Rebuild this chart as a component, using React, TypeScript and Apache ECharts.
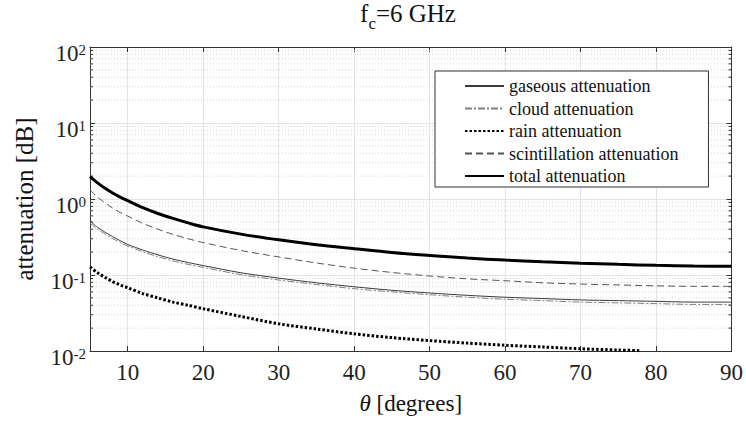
import React, { useEffect, useRef } from "react";
import * as echarts from "echarts";

const thetaDeg = [5, 6, 7, 8, 9, 10, 12, 14, 16, 18, 20, 25, 30, 35, 40, 45, 50, 55, 60, 65, 70, 75, 80, 85, 90];
const gaseous = [0.51, 0.425, 0.365, 0.32, 0.283, 0.252, 0.213, 0.184, 0.162, 0.146, 0.133, 0.107, 0.091, 0.079, 0.07, 0.063, 0.058, 0.054, 0.051, 0.049, 0.047, 0.046, 0.045, 0.044, 0.044];
const cloud = [0.48, 0.4, 0.345, 0.302, 0.267, 0.24, 0.202, 0.174, 0.153, 0.138, 0.126, 0.101, 0.086, 0.075, 0.066, 0.06, 0.055, 0.051, 0.048, 0.046, 0.044, 0.043, 0.042, 0.041, 0.041];
const rainTheta = [5, 6, 7, 8, 9, 10, 12, 14, 16, 18, 20, 25, 30, 35, 40, 45, 50, 55, 60, 65, 70, 75, 78];
const rain = [0.128, 0.107, 0.093, 0.082, 0.074, 0.068, 0.057, 0.05, 0.044, 0.04, 0.036, 0.0285, 0.0228, 0.0195, 0.0168, 0.015, 0.0137, 0.0127, 0.0119, 0.0113, 0.0107, 0.0103, 0.0101];
const scintillation = [1.31, 1.06, 0.89, 0.76, 0.665, 0.595, 0.478, 0.4, 0.342, 0.3, 0.267, 0.21, 0.173, 0.144, 0.123, 0.108, 0.097, 0.089, 0.084, 0.079, 0.076, 0.074, 0.072, 0.071, 0.071];
const total = [1.97, 1.63, 1.38, 1.2, 1.06, 0.95, 0.77, 0.645, 0.555, 0.485, 0.43, 0.345, 0.29, 0.25, 0.222, 0.198, 0.181, 0.167, 0.157, 0.149, 0.143, 0.138, 0.134, 0.131, 0.13];

const seriesNames = [
  "gaseous attenuation",
  "cloud attenuation",
  "rain attenuation",
  "scintillation attenuation",
  "total attenuation",
];

const minorMultipliers = [2, 3, 4, 5, 6, 7, 8, 9];
const decades = [0.01, 0.1, 1, 10];

const X_MIN = 5;
const X_MAX = 90;
const Y_MIN = 0.01;
const Y_MAX = 100;

const FONT = "Liberation Serif";

function pairs(xs: number[], ys: number[]) {
  return xs.map((x, i) => [x, ys[i]]);
}

export default function App() {
  const ref = useRef<HTMLDivElement>(null);

  useEffect(() => {
    if (!ref.current) return;
    const chart = echarts.init(ref.current, undefined, { renderer: "svg" });

    const minorValues: number[][] = [];
    decades.forEach((d) => minorMultipliers.forEach((m) => minorValues.push([X_MIN, +(d * m).toPrecision(3)])));

    const axisColor = "#333";
    const gridColor = "#e3e3e3";

    const lineSeries = (name: string, xs: number[], ys: number[], color: string, width: number, type: any) => ({
      type: "line",
      name,
      data: pairs(xs, ys),
      smooth: 0.3,
      symbol: "none",
      z: 3,
      lineStyle: { color, width, type },
      itemStyle: { color },
    });

    const option: any = {
      animation: false,
      backgroundColor: "#fff",
      textStyle: { fontFamily: FONT },
      title: {
        text: "{a|f}{b|c}{a|=6 GHz}",
        left: 408,
        textAlign: "center",
        top: 7,
        padding: 0,
        textStyle: {
          fontWeight: "normal",
          rich: {
            a: { fontFamily: FONT, fontSize: 25, lineHeight: 25, fontWeight: "normal", color: "#111", padding: [0, 0, 12, 0] },
            b: { fontFamily: FONT, fontSize: 17, lineHeight: 17, fontWeight: "normal", color: "#111", verticalAlign: "bottom" },
          },
        },
      },
      grid: { left: 90, right: 14, top: 47, bottom: 70 },
      legend: {
        data: seriesNames,
        orient: "vertical",
        left: 435,
        top: 71,
        itemWidth: 39,
        itemHeight: 14,
        itemGap: 4.5,
        padding: [6, 30, 2, 29],
        borderColor: "#333",
        borderWidth: 1,
        backgroundColor: "#fff",
        itemStyle: { opacity: 0, borderWidth: 0 },
        textStyle: { fontFamily: FONT, fontSize: 18, lineHeight: 18, color: "#111" },
      },
      xAxis: [
        {
          type: "value",
          min: X_MIN,
          max: X_MAX,
          splitNumber: 9,
          name: "{i|θ} [degrees]",
          nameLocation: "middle",
          nameGap: 41,
          nameTextStyle: {
            fontFamily: FONT,
            fontSize: 23,
            color: "#111",
            rich: { i: { fontFamily: FONT, fontSize: 23, fontStyle: "italic", color: "#111" } },
          },
          axisLine: { show: true, lineStyle: { color: axisColor, width: 1 } },
          axisTick: { show: true, inside: true, length: 5, lineStyle: { color: axisColor } },
          axisLabel: { showMinLabel: false, fontFamily: FONT, fontSize: 23, color: "#222", margin: 10 },
          splitLine: { show: true, lineStyle: { color: gridColor, width: 1 } },
        },
        {
          type: "value",
          position: "top",
          min: X_MIN,
          max: X_MAX,
          splitNumber: 9,
          axisLine: { show: true, lineStyle: { color: axisColor, width: 1 } },
          axisTick: { show: true, inside: true, length: 5, lineStyle: { color: axisColor } },
          axisLabel: { show: false },
          splitLine: { show: false },
        },
      ],
      yAxis: [
        {
          type: "log",
          logBase: 10,
          min: Y_MIN,
          max: Y_MAX,
          name: "attenuation [dB]",
          nameLocation: "middle",
          nameGap: 53,
          nameTextStyle: { fontFamily: FONT, fontSize: 25, color: "#111" },
          axisLine: { show: true, lineStyle: { color: axisColor, width: 1 } },
          axisTick: { show: true, inside: true, length: 5, lineStyle: { color: axisColor } },
          axisLabel: {
            margin: 4,
            formatter: (v: number) => `{a|10}{b|${Math.round(Math.log10(v))}}`,
            rich: {
              a: { fontFamily: FONT, fontSize: 23, lineHeight: 23, color: "#222", padding: [12, 0, 0, 0] },
              b: { fontFamily: FONT, fontSize: 15, lineHeight: 15, color: "#222", verticalAlign: "top", padding: [7, 0, 0, 0] },
            },
          },
          splitLine: { show: true, lineStyle: { color: gridColor, width: 1 } },
        },
        {
          type: "log",
          logBase: 10,
          min: Y_MIN,
          max: Y_MAX,
          position: "right",
          axisLine: { show: true, lineStyle: { color: axisColor, width: 1 } },
          axisTick: { show: true, inside: true, length: 5, lineStyle: { color: axisColor } },
          axisLabel: { show: false },
          splitLine: { show: false },
        },
      ],
      series: [
        {
          type: "custom",
          name: "minor",
          silent: true,
          z: 1,
          xAxisIndex: 0,
          yAxisIndex: 0,
          data: minorValues,
          renderItem: (params: any, api: any) => {
            const v = api.value(1);
            const p0 = api.coord([X_MIN, v]);
            const p1 = api.coord([X_MAX, v]);
            return {
              type: "group",
              children: [
                {
                  type: "line",
                  shape: { x1: p0[0], y1: p0[1], x2: p1[0], y2: p1[1] },
                  style: { stroke: "#d4d4d4", lineWidth: 1, lineDash: [1, 2] },
                },
                {
                  type: "line",
                  shape: { x1: p0[0], y1: p0[1], x2: p0[0] + 3, y2: p0[1] },
                  style: { stroke: axisColor, lineWidth: 1 },
                },
                {
                  type: "line",
                  shape: { x1: p1[0] - 3, y1: p1[1], x2: p1[0], y2: p1[1] },
                  style: { stroke: axisColor, lineWidth: 1 },
                },
              ],
            };
          },
        },
        lineSeries(seriesNames[0], thetaDeg, gaseous, "#3a3a3a", 1, "solid"),
        lineSeries(seriesNames[1], thetaDeg, cloud, "#808080", 1, [7, 2, 2, 2]),
        lineSeries(seriesNames[2], rainTheta, rain, "#000", 3, [2.5, 2]),
        lineSeries(seriesNames[3], thetaDeg, scintillation, "#555", 1, [7, 4]),
        lineSeries(seriesNames[4], thetaDeg, total, "#000", 3, "solid"),
      ],
    };

    chart.setOption(option);
    return () => chart.dispose();
  }, []);

  return <div ref={ref} style={{ width: 746, height: 421, position: "absolute", left: 0, top: 0 }} />;
}
